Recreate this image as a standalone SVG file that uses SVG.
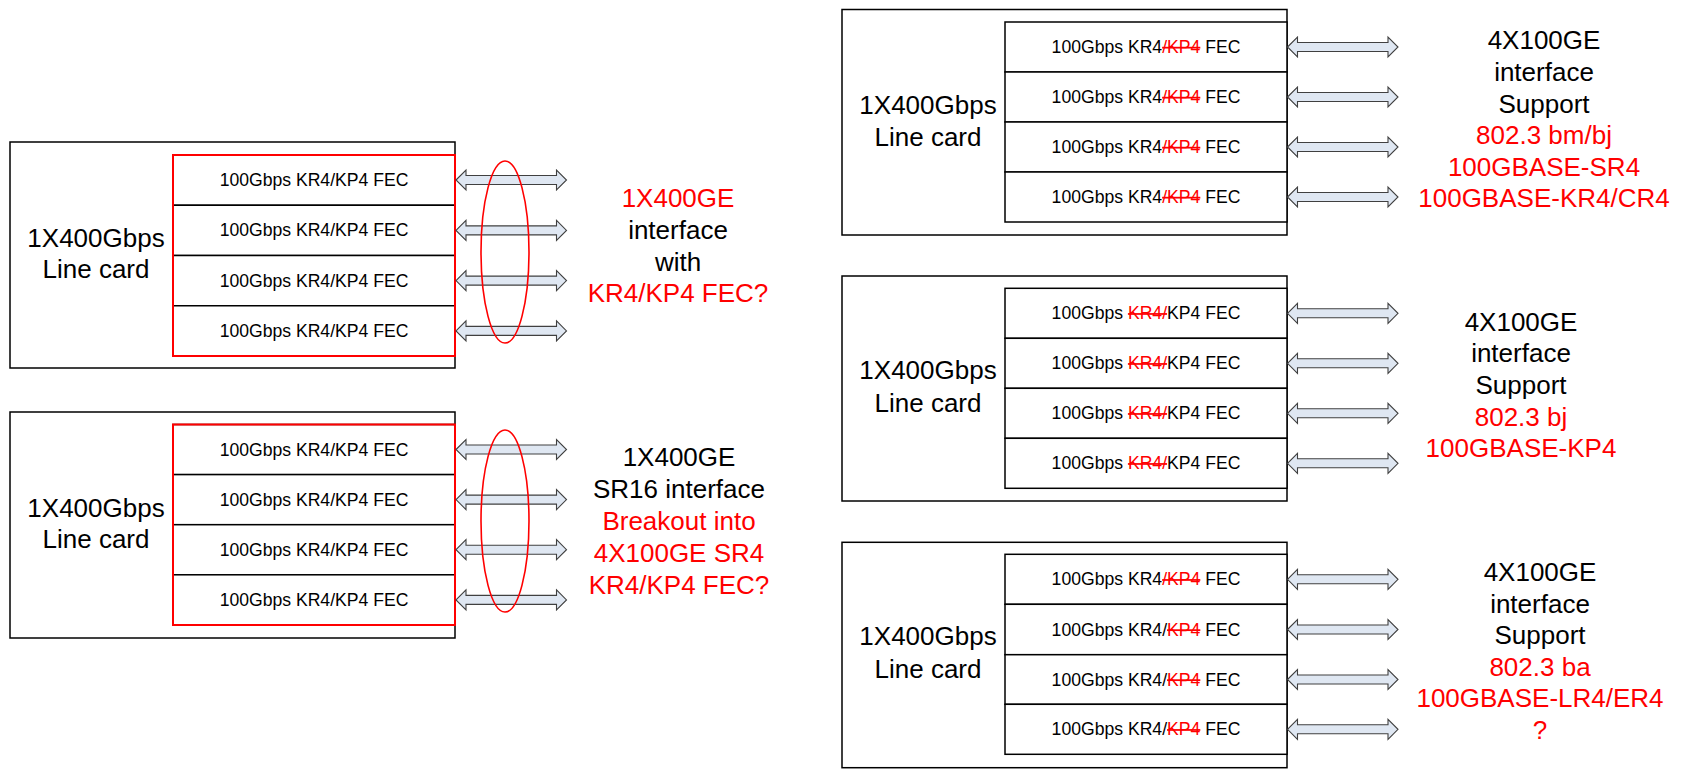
<svg xmlns="http://www.w3.org/2000/svg" width="1690" height="771" viewBox="0 0 1690 771">
<style>
.outer{fill:#fff;stroke:#000;stroke-width:1.5}
.row{fill:#fff;stroke:#000;stroke-width:1.5}
.redbox{fill:none;stroke:#ff0000;stroke-width:2}
.ring{fill:none;stroke:#ff0000;stroke-width:1.6}
.big{font-family:"Liberation Sans",Arial,sans-serif;font-size:26px;text-anchor:middle;fill:#000}
.rt{font-family:"Liberation Sans",Arial,sans-serif;font-size:17.6px;text-anchor:middle;fill:#000}
.red{fill:#ff0000}
.strike{fill:#ff0000;text-decoration:line-through}
.arr{fill:#dfe7f2;stroke:#404040;stroke-width:1.1}
</style>
<defs>
<path id="dbl" class="arr" d="M0,0 L10,-10 L10,-4.5 L100.5,-4.5 L100.5,-10 L110.5,0 L100.5,10 L100.5,4.5 L10,4.5 L10,10 Z"/>
</defs>
<rect width="1690" height="771" fill="#fff"/>

<!-- Top-left line card -->
<g id="card-tl">
<rect class="outer" x="10" y="142" width="445" height="226"/>
<rect class="row" x="173" y="155" width="282" height="50.25"/>
<rect class="row" x="173" y="205.25" width="282" height="50.25"/>
<rect class="row" x="173" y="255.5" width="282" height="50.25"/>
<rect class="row" x="173" y="305.75" width="282" height="50.25"/>
<rect class="redbox" x="173" y="155" width="282" height="201"/>
<text class="big" x="96" y="247">1X400Gbps</text>
<text class="big" x="96" y="278">Line card</text>
<text class="rt" x="314" y="186">100Gbps KR4/KP4 FEC</text>
<text class="rt" x="314" y="236.4">100Gbps KR4/KP4 FEC</text>
<text class="rt" x="314" y="286.6">100Gbps KR4/KP4 FEC</text>
<text class="rt" x="314" y="336.9">100Gbps KR4/KP4 FEC</text>
</g>

<!-- Bottom-left line card -->
<g id="card-bl">
<rect class="outer" x="10" y="412" width="445" height="226"/>
<rect class="row" x="173" y="424.5" width="282" height="50.1"/>
<rect class="row" x="173" y="474.6" width="282" height="50.1"/>
<rect class="row" x="173" y="524.7" width="282" height="50.1"/>
<rect class="row" x="173" y="574.8" width="282" height="50.2"/>
<rect class="redbox" x="173" y="424.5" width="282" height="200.5"/>
<text class="big" x="96" y="516.7">1X400Gbps</text>
<text class="big" x="96" y="548.3">Line card</text>
<text class="rt" x="314" y="455.5">100Gbps KR4/KP4 FEC</text>
<text class="rt" x="314" y="505.6">100Gbps KR4/KP4 FEC</text>
<text class="rt" x="314" y="555.7">100Gbps KR4/KP4 FEC</text>
<text class="rt" x="314" y="605.9">100Gbps KR4/KP4 FEC</text>
</g>

<!-- Top-right line card -->
<g id="card-tr">
<rect class="outer" x="842" y="9.5" width="445" height="225.5"/>
<rect class="row" x="1005" y="22" width="282" height="50"/>
<rect class="row" x="1005" y="72" width="282" height="50"/>
<rect class="row" x="1005" y="122" width="282" height="50"/>
<rect class="row" x="1005" y="172" width="282" height="50"/>
<text class="big" x="928" y="114">1X400Gbps</text>
<text class="big" x="928" y="146">Line card</text>
<text class="rt" x="1146" y="53">100Gbps KR4<tspan class="strike">/KP4</tspan> FEC</text>
<text class="rt" x="1146" y="103">100Gbps KR4<tspan class="strike">/KP4</tspan> FEC</text>
<text class="rt" x="1146" y="153">100Gbps KR4<tspan class="strike">/KP4</tspan> FEC</text>
<text class="rt" x="1146" y="203">100Gbps KR4<tspan class="strike">/KP4</tspan> FEC</text>
</g>

<!-- Middle-right line card -->
<g id="card-mr">
<rect class="outer" x="842" y="276" width="445" height="225"/>
<rect class="row" x="1005" y="288.3" width="282" height="50"/>
<rect class="row" x="1005" y="338.3" width="282" height="50"/>
<rect class="row" x="1005" y="388.3" width="282" height="50"/>
<rect class="row" x="1005" y="438.3" width="282" height="50"/>
<text class="big" x="928" y="379.3">1X400Gbps</text>
<text class="big" x="928" y="411.7">Line card</text>
<text class="rt" x="1146" y="319.3">100Gbps <tspan class="strike">KR4/</tspan>KP4 FEC</text>
<text class="rt" x="1146" y="369.3">100Gbps <tspan class="strike">KR4/</tspan>KP4 FEC</text>
<text class="rt" x="1146" y="419.3">100Gbps <tspan class="strike">KR4/</tspan>KP4 FEC</text>
<text class="rt" x="1146" y="469.3">100Gbps <tspan class="strike">KR4/</tspan>KP4 FEC</text>
</g>

<!-- Bottom-right line card -->
<g id="card-br">
<rect class="outer" x="842" y="542.3" width="445" height="225.4"/>
<rect class="row" x="1005" y="554.3" width="282" height="50"/>
<rect class="row" x="1005" y="604.3" width="282" height="50.4"/>
<rect class="row" x="1005" y="654.7" width="282" height="49.6"/>
<rect class="row" x="1005" y="704.3" width="282" height="50"/>
<text class="big" x="928" y="645">1X400Gbps</text>
<text class="big" x="928" y="677.7">Line card</text>
<text class="rt" x="1146" y="585.3">100Gbps KR4<tspan class="strike">/KP4</tspan> FEC</text>
<text class="rt" x="1146" y="635.5">100Gbps KR4/<tspan class="strike">KP4</tspan> FEC</text>
<text class="rt" x="1146" y="685.5">100Gbps KR4/<tspan class="strike">KP4</tspan> FEC</text>
<text class="rt" x="1146" y="735.3">100Gbps KR4/<tspan class="strike">KP4</tspan> FEC</text>
</g>

<!-- Connectors -->
<g id="connectors">
<use href="#dbl" transform="translate(456,180)"/>
<use href="#dbl" transform="translate(456,230.4)"/>
<use href="#dbl" transform="translate(456,280.6)"/>
<use href="#dbl" transform="translate(456,330.9)"/>
<use href="#dbl" transform="translate(456,449.5)"/>
<use href="#dbl" transform="translate(456,499.6)"/>
<use href="#dbl" transform="translate(456,549.7)"/>
<use href="#dbl" transform="translate(456,599.9)"/>
<use href="#dbl" transform="translate(1287.5,47)"/>
<use href="#dbl" transform="translate(1287.5,97)"/>
<use href="#dbl" transform="translate(1287.5,147)"/>
<use href="#dbl" transform="translate(1287.5,197)"/>
<use href="#dbl" transform="translate(1287.5,313.3)"/>
<use href="#dbl" transform="translate(1287.5,363.3)"/>
<use href="#dbl" transform="translate(1287.5,413.3)"/>
<use href="#dbl" transform="translate(1287.5,463.3)"/>
<use href="#dbl" transform="translate(1287.5,579.3)"/>
<use href="#dbl" transform="translate(1287.5,629.5)"/>
<use href="#dbl" transform="translate(1287.5,679.5)"/>
<use href="#dbl" transform="translate(1287.5,729.3)"/>
</g>

<!-- Grouping ellipses -->
<g id="group-tl"><ellipse class="ring" cx="505" cy="252" rx="24" ry="91"/></g>
<g id="group-bl"><ellipse class="ring" cx="505" cy="521" rx="24" ry="91"/></g>

<!-- Interface labels -->
<g id="label-tl" class="big">
<text class="big red" x="678" y="207.3">1X400GE</text>
<text class="big" x="678" y="239">interface</text>
<text class="big" x="678" y="270.7">with</text>
<text class="big red" x="678" y="302.3">KR4/KP4 FEC?</text>
</g>
<g id="label-bl">
<text class="big" x="679" y="466">1X400GE</text>
<text class="big" x="679" y="498.3">SR16 interface</text>
<text class="big red" x="679" y="530">Breakout into</text>
<text class="big red" x="679" y="561.7">4X100GE SR4</text>
<text class="big red" x="679" y="594.3">KR4/KP4 FEC?</text>
</g>
<g id="label-tr">
<text class="big" x="1544" y="49.3">4X100GE</text>
<text class="big" x="1544" y="80.9">interface</text>
<text class="big" x="1544" y="112.5">Support</text>
<text class="big red" x="1544" y="144.1">802.3 bm/bj</text>
<text class="big red" x="1544" y="175.7">100GBASE-SR4</text>
<text class="big red" x="1544" y="207.3">100GBASE-KR4/CR4</text>
</g>
<g id="label-mr">
<text class="big" x="1521" y="330.7">4X100GE</text>
<text class="big" x="1521" y="362.3">interface</text>
<text class="big" x="1521" y="394">Support</text>
<text class="big red" x="1521" y="425.7">802.3 bj</text>
<text class="big red" x="1521" y="457.3">100GBASE-KP4</text>
</g>
<g id="label-br">
<text class="big" x="1540" y="581">4X100GE</text>
<text class="big" x="1540" y="612.6">interface</text>
<text class="big" x="1540" y="644.2">Support</text>
<text class="big red" x="1540" y="675.8">802.3 ba</text>
<text class="big red" x="1540" y="707.4">100GBASE-LR4/ER4</text>
<text class="big red" x="1540" y="739">?</text>
</g>
</svg>
